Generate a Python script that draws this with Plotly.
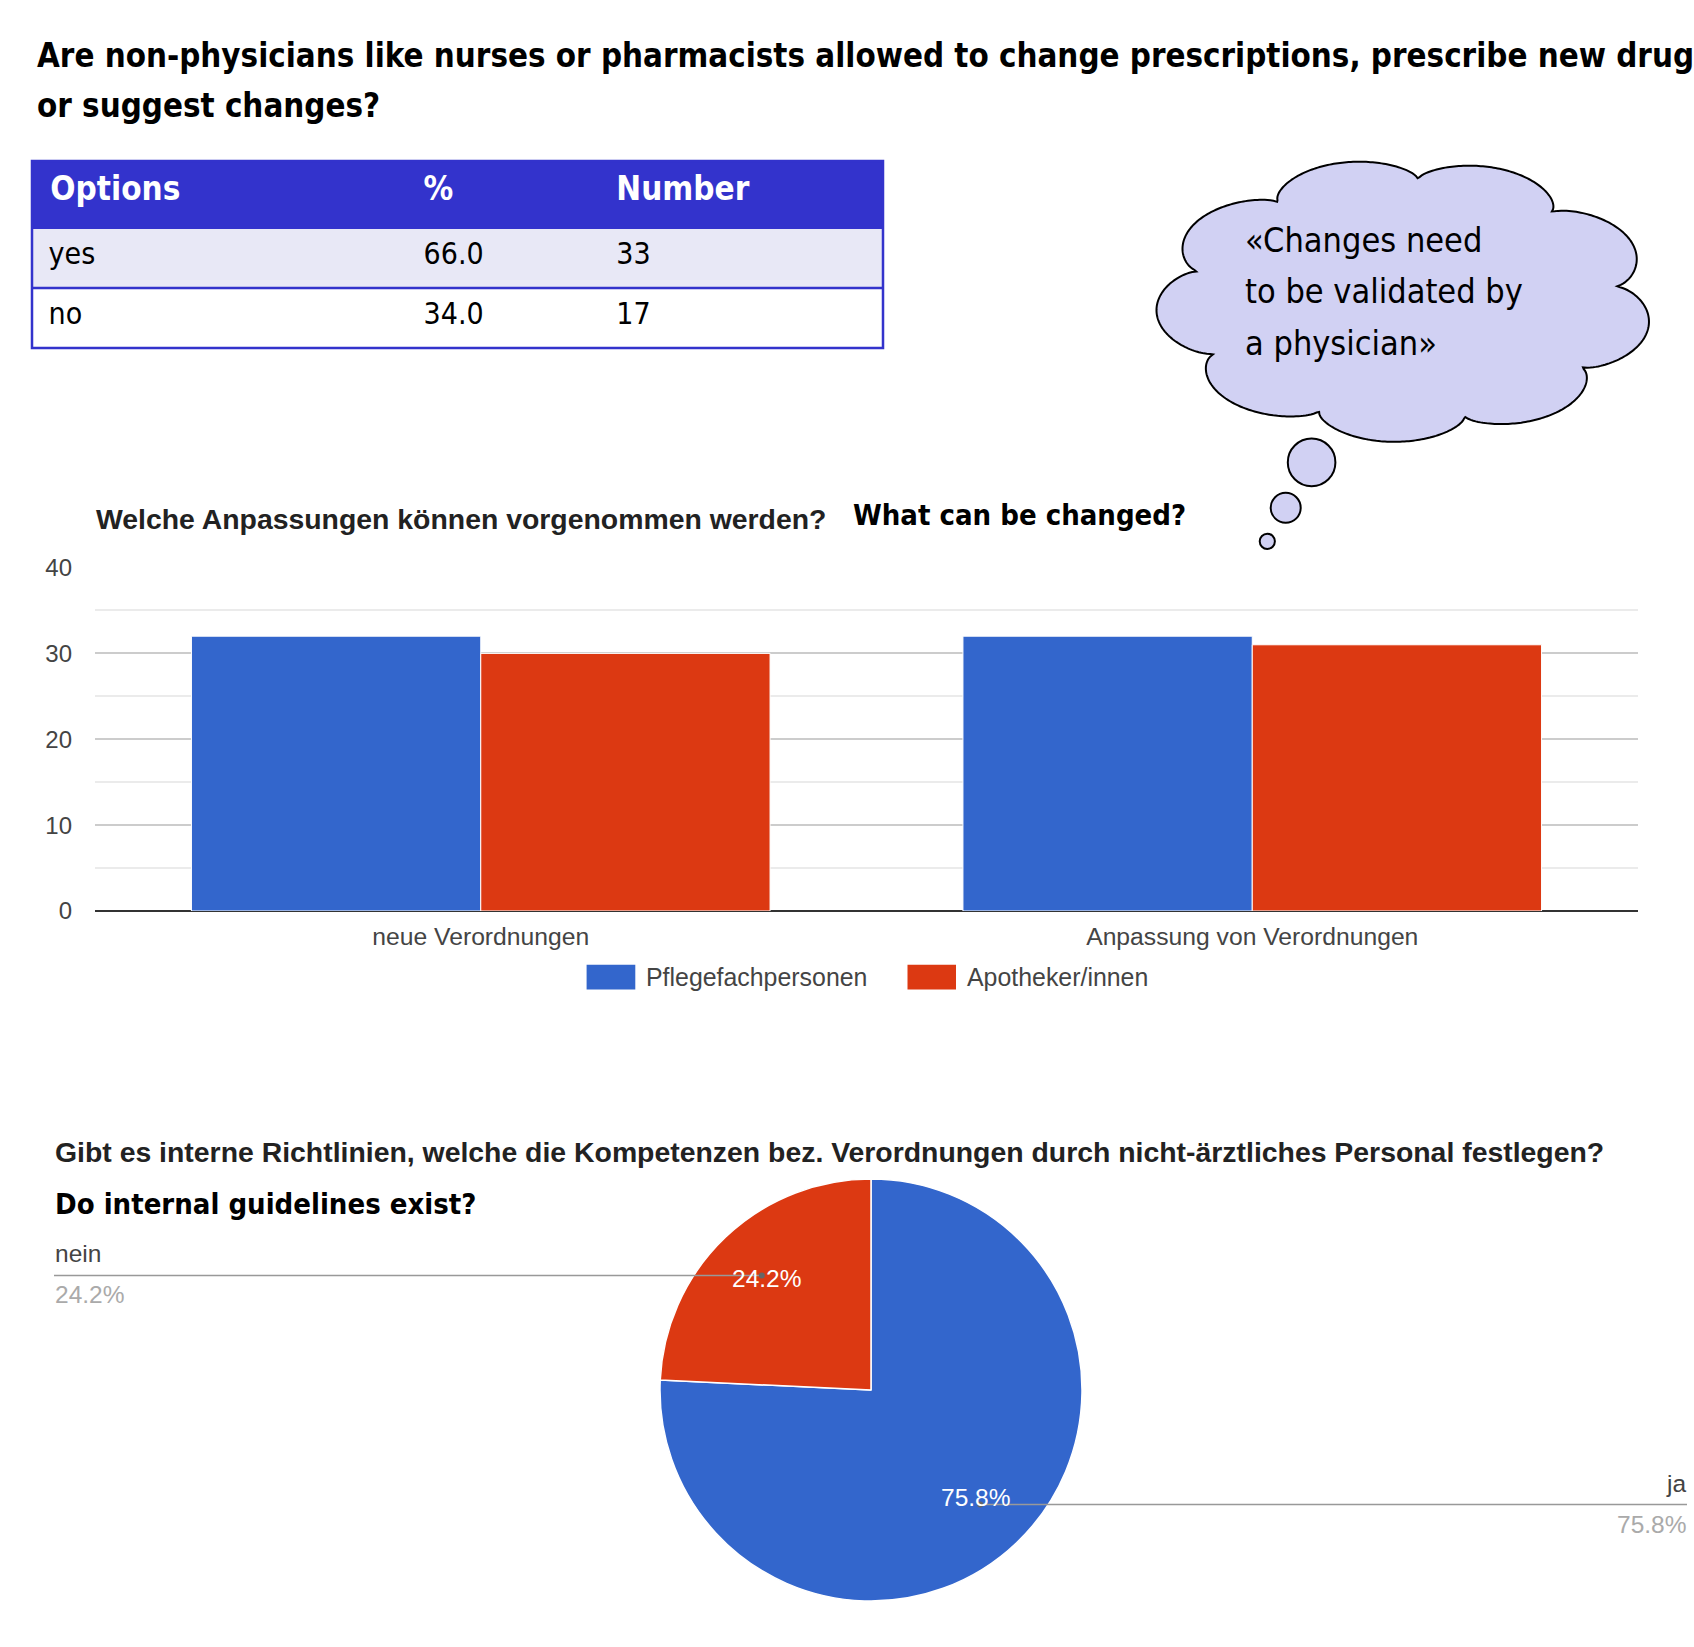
import math
import plotly.graph_objects as go

W, H = 1694, 1647

# ---------------- data ----------------
title_lines = [
    "Are non-physicians like nurses or pharmacists allowed to change prescriptions, prescribe new drug",
    "or suggest changes?",
]
table_header = ["Options", "%", "Number"]
table_options = ["yes", "no"]
table_percent = [66.0, 34.0]
table_number = [33, 17]

cloud_lines = ["«Changes need", "to be validated by", "a physician»"]

bar_title_de = "Welche Anpassungen können vorgenommen werden?"
bar_title_en = "What can be changed?"
bar_categories = ["neue Verordnungen", "Anpassung von Verordnungen"]
bar_series = ["Pflegefachpersonen", "Apotheker/innen"]
pflege_values = [32, 32]
apotheker_values = [30, 31]
y_ticks = [0, 10, 20, 30, 40]

pie_title_de = ("Gibt es interne Richtlinien, welche die Kompetenzen bez. "
                "Verordnungen durch nicht-ärztliches Personal festlegen?")
pie_title_en = "Do internal guidelines exist?"
pie_labels = ["ja", "nein"]
pie_values = [25, 8]

# ---------------- styles ----------------
BLUE = "#3366CC"
RED = "#DC3912"
HEADER = "#3333CC"
ROW1 = "#E8E8F6"
CLOUD = "#D1D1F3"
NARROW = "DejaVu Sans Condensed, Liberation Sans Narrow, Arial Narrow, sans-serif"
ARIAL = "Liberation Sans, Arial, sans-serif"


def px(x):
    return x / W


def py(y):
    return 1 - y / H


fig = go.Figure()
annotations = []
shapes = []


def text(x, y, s, size, family=ARIAL, color="#222", xanchor="left", bold=False):
    annotations.append(dict(
        x=px(x), y=py(y), xref="paper", yref="paper", text=(f"<b>{s}</b>" if bold else s),
        showarrow=False, xanchor=xanchor, yanchor="middle",
        font=dict(size=size, family=family, color=color), borderpad=0))


# ---------------- main title ----------------
text(36, 55.5, title_lines[0], 32.8, NARROW, "black", bold=True)
text(36, 105.5, title_lines[1], 32.8, NARROW, "black", bold=True)

# ---------------- table ----------------
tx0, tx1, ty0, ty1 = 32, 883, 161, 348
head_h, row_h = 67, 60

fig.add_trace(go.Table(
    domain=dict(x=[px(tx0), px(tx1)], y=[py(ty1), py(ty0)]),
    columnwidth=[384, 193, 274],
    header=dict(
        values=["<b>\u00a0" + table_header[0] + "</b>"] + [f"<b>{h}</b>" for h in table_header[1:]],
        fill_color=HEADER, line=dict(color=HEADER, width=1),
        font=dict(color="white", size=33, family=NARROW), height=head_h, align="left"),
    cells=dict(
        values=[["<span>\u00a0" + o + "</span>" for o in table_options],
                [f"<span>{v:.1f}</span>" for v in table_percent],
                [f"<span>{n}</span>" for n in table_number]],
        fill_color=[[ROW1, "white"]] * 3,
        line=dict(color=[[ROW1, "white"]] * 3, width=1),
        font=dict(color="black", size=30, family=NARROW), height=row_h, align="left"),
))
shapes.append(dict(type="rect", xref="paper", yref="paper", x0=px(tx0), x1=px(tx1),
                   y0=py(ty0), y1=py(ty1), line=dict(color=HEADER, width=2.5)))
shapes.append(dict(type="line", xref="paper", yref="paper", x0=px(tx0), x1=px(tx1),
                   y0=py(ty0 + head_h + row_h), y1=py(ty0 + head_h + row_h),
                   line=dict(color=HEADER, width=2.5)))


# ---------------- thought cloud ----------------
def cloud_path(cx, cy, rx, ry, bumps=9, depth=0.15, phase=0.5, steps=720):
    pts = []
    for i in range(steps + 1):
        t = 2 * math.pi * i / steps
        f = 1 - depth + depth * abs(math.sin(bumps / 2 * t + phase)) ** 0.6
        pts.append((px(cx + rx * f * math.cos(t)), py(cy + ry * f * math.sin(t))))
    return "M " + " L ".join(f"{a:.5f},{b:.5f}" for a, b in pts) + " Z"


shapes.append(dict(type="path", xref="paper", yref="paper",
                   path=cloud_path(1404.5, 300, 249, 142),
                   fillcolor=CLOUD, line=dict(color="black", width=2)))
for (cx, cy, r) in [(1311.6, 462.4, 23.8), (1285.7, 507.8, 15), (1267.3, 541.3, 7.6)]:
    shapes.append(dict(type="circle", xref="paper", yref="paper",
                       x0=px(cx - r), x1=px(cx + r), y0=py(cy + r), y1=py(cy - r),
                       fillcolor=CLOUD, line=dict(color="black", width=2)))
for i, line in enumerate(cloud_lines):
    text(1244, 240 + i * 51.3, line, 34, NARROW, "black")

# ---------------- bar chart ----------------
fig.add_trace(go.Bar(x=bar_categories, y=pflege_values, name=bar_series[0],
                     marker=dict(color=BLUE, line=dict(color="white", width=1)),
                     showlegend=False, xaxis="x", yaxis="y"))
fig.add_trace(go.Bar(x=bar_categories, y=apotheker_values, name=bar_series[1],
                     marker=dict(color=RED, line=dict(color="white", width=1)),
                     showlegend=False, xaxis="x", yaxis="y"))

text(95, 518.6, bar_title_de, 28.4, ARIAL, "#222", bold=True)
text(852, 515, bar_title_en, 29, NARROW, "black", bold=True)

# custom legend (rectangular swatches like the original)
leg = [(586.6, 635.3, 645, BLUE), (907.5, 956, 966, RED)]
for (x0, x1, tx, col), name in zip(leg, bar_series):
    shapes.append(dict(type="rect", xref="paper", yref="paper", x0=px(x0), x1=px(x1),
                       y0=py(989.6), y1=py(964.8), fillcolor=col, line=dict(width=0)))
    text(tx, 976.7, name, 24.9, ARIAL, "#444")

# ---------------- pie chart ----------------
pcx, pcy, pr = 871, 1390, 211
fig.add_trace(go.Pie(
    labels=pie_labels, values=pie_values, sort=False, direction="clockwise", rotation=0,
    marker=dict(colors=[BLUE, RED], line=dict(color="white", width=1.5)),
    textinfo="none",
    domain=dict(x=[px(pcx - pr), px(pcx + pr)], y=[py(pcy + pr), py(pcy - pr)]),
    showlegend=False))

text(54, 1151.7, pie_title_de, 28.4, ARIAL, "#222", bold=True)
text(54, 1203.5, pie_title_en, 29, NARROW, "black", bold=True)

total = sum(pie_values)
cum = 0
for lab, v in zip(pie_labels, pie_values):
    mid = (cum + v / 2) / total
    cum += v
    ang = 2 * math.pi * mid
    sx, sy = math.sin(ang), -math.cos(ang)
    dotx, doty = pcx + sx * pr * 0.75, pcy + sy * pr * 0.75
    labx, laby = pcx + sx * pr * 0.72, pcy + sy * pr * 0.72
    pct = f"{100 * v / total:.1f}%"
    if sx < 0:
        lx, anchor = 54, "left"
    else:
        lx, anchor = 1687, "right"
    shapes.append(dict(type="line", xref="paper", yref="paper", x0=px(lx), x1=px(dotx),
                       y0=py(doty), y1=py(doty), line=dict(color="#999", width=1.5)))
    shapes.append(dict(type="circle", xref="paper", yref="paper",
                       x0=px(dotx - 3), x1=px(dotx + 3), y0=py(doty + 3), y1=py(doty - 3),
                       fillcolor="#666", line=dict(width=0)))
    text(labx, laby - 2, pct, 24.5, ARIAL, "white", xanchor="center")
    text(lx, doty - 21.5, lab, 24.5, ARIAL, "#444", xanchor=anchor)
    text(lx, doty + 19.5, pct, 24.5, ARIAL, "#aaa", xanchor=anchor)

fig.update_layout(
    width=W, height=H, margin=dict(l=0, r=0, t=0, b=0, pad=0, autoexpand=False),
    paper_bgcolor="white", plot_bgcolor="white",
    barmode="group", bargap=0.25, bargroupgap=0.0,
    xaxis=dict(domain=[px(95), px(1638)], range=[-0.5, 1.5], showgrid=False, showline=False,
               ticks="", tickfont=dict(size=24.7, family=ARIAL, color="#444"),
               ticklabelstandoff=8, anchor="y", automargin=False, fixedrange=True),
    yaxis=dict(domain=[py(911), py(567.5)], range=[0, 40], tickvals=y_ticks,
               showgrid=True, gridcolor="#cccccc", gridwidth=1.5,
               minor=dict(dtick=5, showgrid=True, gridcolor="#ebebeb", gridwidth=1.5),
               zeroline=True, zerolinecolor="#333", zerolinewidth=2,
               ticks="", tickfont=dict(size=24, family=ARIAL, color="#444"),
               ticklabelstandoff=22, anchor="x", automargin=False, fixedrange=True),
    annotations=annotations, shapes=shapes, showlegend=False,
)

fig.write_html("out.html")
